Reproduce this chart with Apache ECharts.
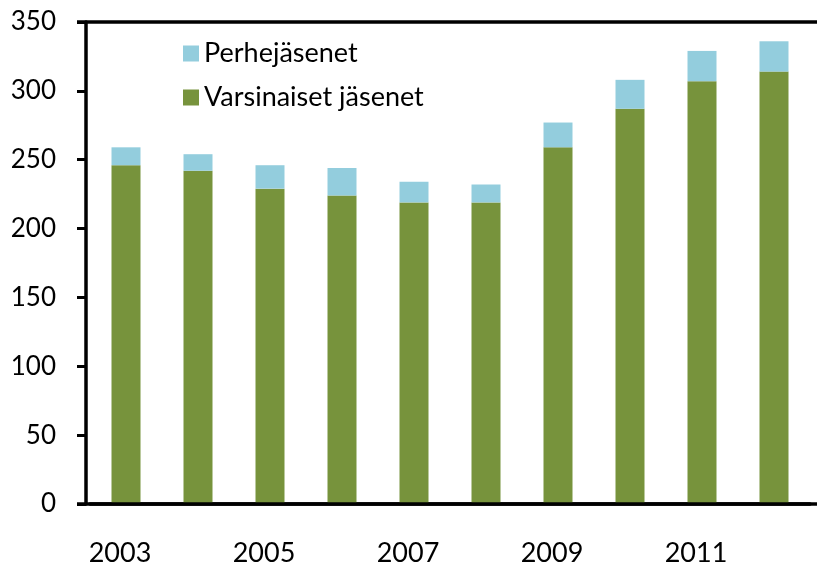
<!DOCTYPE html>
<html>
<head>
<meta charset="utf-8">
<script src="https://cdn.jsdelivr.net/npm/echarts@6/dist/echarts.min.js"></script>
<style>
html,body{margin:0;padding:0;background:#fff;}
#c{width:817px;height:567px;}
</style>
</head>
<body>
<div id="c"></div>
<script>
var years = ['2003','2004','2005','2006','2007','2008','2009','2010','2011','2012'];
var varsinaiset = [246, 242, 229, 224, 219, 219, 259, 287, 307, 314];
var perhe = [13, 12, 17, 20, 15, 13, 18, 21, 22, 22];
var yTicks = {min: 0, max: 350, interval: 50};

var FONT = 'Lato';
var chart = echarts.init(document.getElementById('c'), null, {renderer: 'canvas'});
chart.setOption({
  animation: false,
  backgroundColor: '#fff',
  grid: {left: 90, right: 7, top: 22, bottom: 63, containLabel: false},
  legend: {
    orient: 'vertical',
    left: 178,
    top: 35,
    itemWidth: 16,
    itemHeight: 16,
    itemGap: 17,
    icon: 'rect',
    textStyle: {fontFamily: FONT, fontSize: 27, color: '#000', padding: [0, 0, 0, 0]},
    data: ['Perhejäsenet', 'Varsinaiset jäsenet']
  },
  xAxis: {
    type: 'category',
    data: years,
    axisLine: {show: true, lineStyle: {color: '#000', width: 3.5}},
    axisTick: {show: false},
    axisLabel: {interval: 1, margin: 36, fontFamily: FONT, fontSize: 27, color: '#000', padding: [0, 12, 0, 0]}
  },
  yAxis: {
    type: 'value',
    min: yTicks.min, max: yTicks.max, interval: yTicks.interval,
    offset: 4,
    axisLine: {show: true, lineStyle: {color: '#000', width: 3.5}},
    axisTick: {show: true, length: 9, lineStyle: {color: '#000', width: 3}},
    splitLine: {show: false},
    axisLabel: {margin: 30, fontFamily: FONT, fontSize: 26, color: '#000'}
  },
  series: [
    {
      name: 'Varsinaiset jäsenet', type: 'bar', stack: 'a', barWidth: 29,
      itemStyle: {color: '#77933C'},
      data: varsinaiset
    },
    {
      name: 'Perhejäsenet', type: 'bar', stack: 'a', barWidth: 29,
      itemStyle: {color: '#93CDDD'},
      data: perhe
    }
  ]
});
var y0 = chart.convertToPixel({yAxisIndex: 0}, yTicks.min);
var yTop = chart.convertToPixel({yAxisIndex: 0}, yTicks.max);
chart.setOption({
  graphic: [
    {type: 'line', shape: {x1: 77, y1: y0, x2: 817, y2: y0}, style: {stroke: '#000', lineWidth: 3.5}, z: 100},
    {type: 'line', shape: {x1: 77, y1: yTop, x2: 817, y2: yTop}, style: {stroke: '#000', lineWidth: 3.5}, z: 100}
  ]
});
</script>
</body>
</html>
